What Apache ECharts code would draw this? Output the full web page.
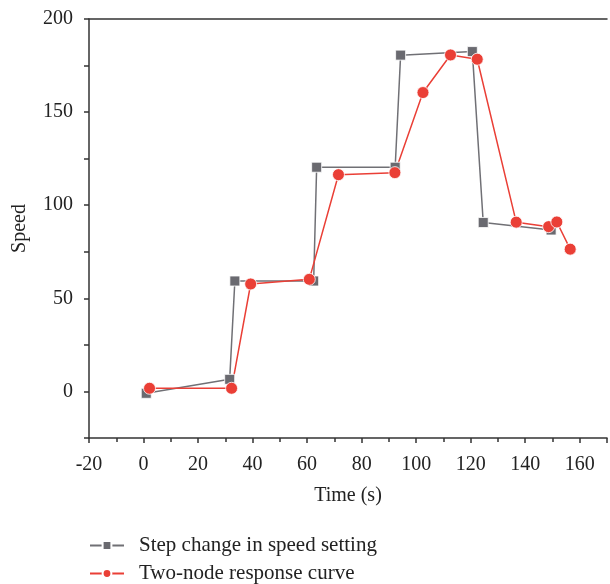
<!DOCTYPE html>
<html><head><meta charset="utf-8">
<script src="https://cdn.jsdelivr.net/npm/echarts@6/dist/echarts.min.js"></script>
<style>html,body{margin:0;padding:0;background:#fff}#c{width:610px;height:584px}</style>
</head><body><div id="c"></div>
<script>
const stepX = [1, 31.6, 33.5, 62.4, 63.5, 92.3, 94.3, 120.6, 124.6, 149.5];
const stepY = [-1, 6.5, 59.3, 59.3, 120.4, 120.4, 180.6, 182.5, 90.7, 86.7];
const respX = [2.2, 32.3, 39.3, 60.8, 71.5, 92.2, 102.5, 112.6, 122.4, 136.7, 148.6, 151.6, 156.5];
const respY = [1.7, 1.7, 57.7, 60.2, 116.4, 117.5, 160.5, 180.7, 178.4, 90.9, 88.5, 91.0, 76.4];
const seriesNames = ['Step change in speed setting', 'Two-node response curve'];
const xTicks = [-20, 0, 20, 40, 60, 80, 100, 120, 140, 160];
const yTicks = [0, 50, 100, 150, 200];

const font = 'Liberation Serif';
const axisColor = '#333';
const legendBase = {
  orient: 'horizontal', left: 84, itemWidth: 34, itemHeight: 11,
  textStyle: {fontFamily: font, fontSize: 21, color: '#222', padding: [0, 0, 0, 10]}
};
const chart = echarts.init(document.getElementById('c'));
chart.setOption({
  animation: false,
  grid: {left: 89, top: 19, right: 0, bottom: 146},
  legend: [
    Object.assign({}, legendBase, {top: 530, data: [seriesNames[0]]}),
    Object.assign({}, legendBase, {top: 558, data: [seriesNames[1]]})
  ],
  xAxis: [{
    type: 'value', min: -20, max: 170, interval: 20,
    name: 'Time (s)', nameLocation: 'middle', nameGap: 48,
    nameTextStyle: {fontFamily: font, fontSize: 20, color: '#222'},
    axisLine: {show: true, onZero: false, lineStyle: {color: axisColor, width: 1.5}},
    axisTick: {show: true, length: 5, lineStyle: {color: axisColor, width: 1.5}},
    minorTick: {show: true, splitNumber: 2, length: 4, lineStyle: {color: axisColor, width: 1.5}},
    splitLine: {show: false},
    axisLabel: {fontFamily: font, fontSize: 20, color: '#222', margin: 17,
      formatter: v => xTicks.includes(v) ? String(v) : ''}
  }, {
    type: 'value', position: 'top', min: -20, max: 170,
    axisLine: {show: true, onZero: false, lineStyle: {color: axisColor, width: 1.5}},
    axisTick: {show: false}, axisLabel: {show: false}, splitLine: {show: false}
  }],
  yAxis: {
    type: 'value', min: -25, max: 200, interval: 25,
    name: 'Speed', nameLocation: 'middle', nameGap: 59,
    nameTextStyle: {fontFamily: font, fontSize: 20, color: '#222'},
    axisLine: {show: true, onZero: false, lineStyle: {color: axisColor, width: 1.5}},
    axisTick: {show: true, length: 5, lineStyle: {color: axisColor, width: 1.5}},
    splitLine: {show: false},
    axisLabel: {fontFamily: font, fontSize: 20, color: '#222', margin: 16,
      formatter: v => yTicks.includes(v) ? String(v) : ''}
  },
  series: [{
    name: seriesNames[0], type: 'line', symbol: 'rect', symbolSize: 10,
    data: stepX.map((x, i) => [x, stepY[i]]),
    lineStyle: {color: '#707075', width: 1.5},
    itemStyle: {color: '#6a6a70', borderColor: '#fff', borderWidth: 0.8}
  }, {
    name: seriesNames[1], type: 'line', symbol: 'circle', symbolSize: 12,
    data: respX.map((x, i) => [x, respY[i]]),
    lineStyle: {color: '#ea3f36', width: 1.5},
    itemStyle: {color: '#ea3f36', borderColor: '#fff', borderWidth: 0.8}
  }]
});
</script></body></html>
